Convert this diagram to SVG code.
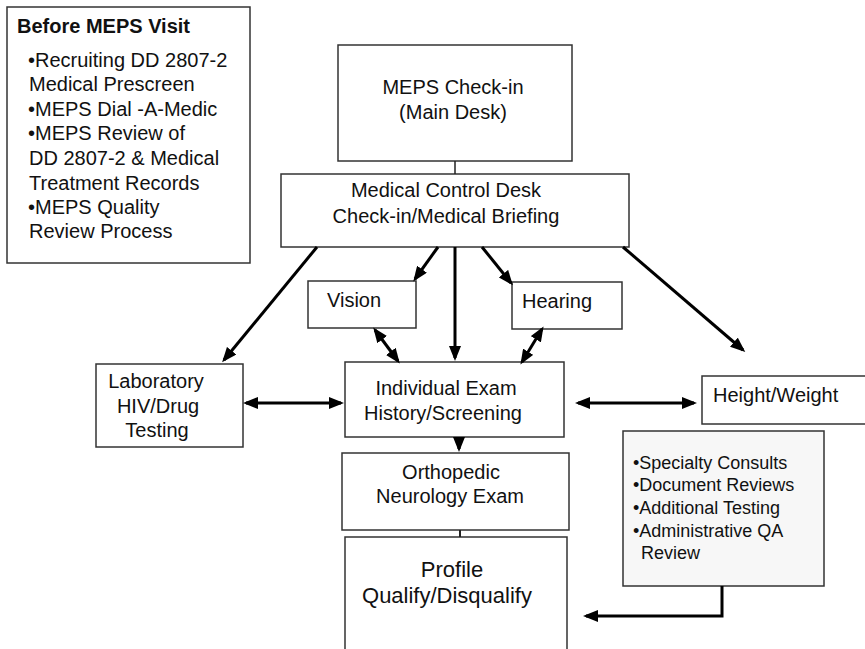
<svg xmlns="http://www.w3.org/2000/svg" width="865" height="649" viewBox="0 0 865 649">
<style>
  text { font-family: "Liberation Sans", Arial, sans-serif; font-size: 20px; fill: #111; }
  .box { fill: #fff; stroke: #333; stroke-width: 1.5; }
  .gray { fill: #f7f7f7; stroke: #333; stroke-width: 1.5; }
  .c { text-anchor: middle; }
  .b { font-weight: bold; }
  .s { font-size: 18px; }
  .p { font-size: 22px; }
  .arr { fill: none; stroke: #000; stroke-width: 3; }
  .thin { fill: none; stroke: #222; stroke-width: 1.5; }
</style>
<defs>
  <marker id="ah" markerUnits="userSpaceOnUse" markerWidth="15" markerHeight="12" viewBox="0 0 15 12" refX="12" refY="6" orient="auto-start-reverse">
    <path d="M0,0 L15,6 L0,12 z" fill="#000"/>
  </marker>
</defs>
<rect width="865" height="649" fill="#fff"/>

<g id="before-meps">
  <rect class="box" x="7" y="7" width="243" height="256"/>
  <text class="b" x="17" y="33">Before MEPS Visit</text>
  <text x="28" y="67">•Recruiting DD 2807-2</text>
  <text x="29" y="91">Medical Prescreen</text>
  <text x="28" y="116">•MEPS Dial -A-Medic</text>
  <text x="28" y="140">•MEPS Review of</text>
  <text x="29" y="165">DD 2807-2 &amp; Medical</text>
  <text x="29" y="190">Treatment Records</text>
  <text x="28" y="214">•MEPS Quality</text>
  <text x="29" y="238">Review Process</text>
</g>

<g id="meps-checkin">
  <rect class="box" x="338" y="45" width="234" height="116"/>
  <text class="c" x="453" y="94">MEPS Check-in</text>
  <text class="c" x="453" y="119">(Main Desk)</text>
</g>

<g id="medical-control">
  <rect class="box" x="281" y="174" width="348" height="73"/>
  <text class="c" x="446" y="197">Medical Control Desk</text>
  <text class="c" x="446" y="223">Check-in/Medical Briefing</text>
</g>

<g id="vision">
  <rect class="box" x="308" y="281" width="108" height="47"/>
  <text x="327" y="307">Vision</text>
</g>

<g id="hearing">
  <rect class="box" x="512" y="282" width="110" height="47"/>
  <text x="522" y="308">Hearing</text>
</g>

<g id="laboratory">
  <rect class="box" x="96" y="364" width="147" height="83"/>
  <text class="c" x="156" y="388">Laboratory</text>
  <text class="c" x="158" y="413">HIV/Drug</text>
  <text class="c" x="157" y="437">Testing</text>
</g>

<g id="individual-exam">
  <rect class="box" x="345" y="362" width="219" height="75"/>
  <text class="c" x="446" y="395">Individual Exam</text>
  <text class="c" x="443" y="420">History/Screening</text>
</g>

<g id="height-weight">
  <rect class="box" x="702" y="376" width="170" height="48"/>
  <text x="713" y="402">Height/Weight</text>
</g>

<g id="specialty">
  <rect class="gray" x="623" y="431" width="201" height="155"/>
  <text class="s" x="633" y="469">•Specialty Consults</text>
  <text class="s" x="633" y="491">•Document Reviews</text>
  <text class="s" x="633" y="514">•Additional Testing</text>
  <text class="s" x="633" y="537">•Administrative QA</text>
  <text class="s" x="641" y="559">Review</text>
</g>

<g id="orthopedic">
  <rect class="box" x="342" y="453" width="227" height="77"/>
  <text class="c" x="451" y="479">Orthopedic</text>
  <text class="c" x="450" y="503">Neurology Exam</text>
</g>

<g id="profile">
  <path class="box" d="M345,652 V537 H567 V652"/>
  <text class="c p" x="452" y="577">Profile</text>
  <text class="c p" x="447" y="603">Qualify/Disqualify</text>
</g>

<g id="connectors">
  <line class="thin" x1="455" y1="161" x2="455" y2="174"/>
  <line class="arr" x1="317" y1="247" x2="224" y2="360" marker-end="url(#ah)"/>
  <line class="arr" x1="438" y1="247" x2="415" y2="279" marker-end="url(#ah)"/>
  <line class="arr" x1="455" y1="247" x2="455" y2="358" marker-end="url(#ah)"/>
  <line class="arr" x1="482" y1="247" x2="511" y2="283" marker-end="url(#ah)"/>
  <line class="arr" x1="623" y1="247" x2="743" y2="350" marker-end="url(#ah)"/>
  <line class="arr" x1="375" y1="330" x2="398" y2="361" marker-start="url(#ah)" marker-end="url(#ah)"/>
  <line class="arr" x1="542" y1="329" x2="522" y2="362" marker-start="url(#ah)" marker-end="url(#ah)"/>
  <line class="arr" x1="246" y1="403" x2="341" y2="403" marker-start="url(#ah)" marker-end="url(#ah)"/>
  <line class="arr" x1="578" y1="403" x2="694" y2="403" marker-start="url(#ah)" marker-end="url(#ah)"/>
  <line class="arr" x1="459" y1="437" x2="459" y2="449" marker-end="url(#ah)"/>
  <line class="thin" x1="460" y1="530" x2="460" y2="537" style="stroke-width:2"/>
  <polyline class="arr" points="722,586 722,616 586,616" marker-end="url(#ah)"/>
</g>
</svg>
